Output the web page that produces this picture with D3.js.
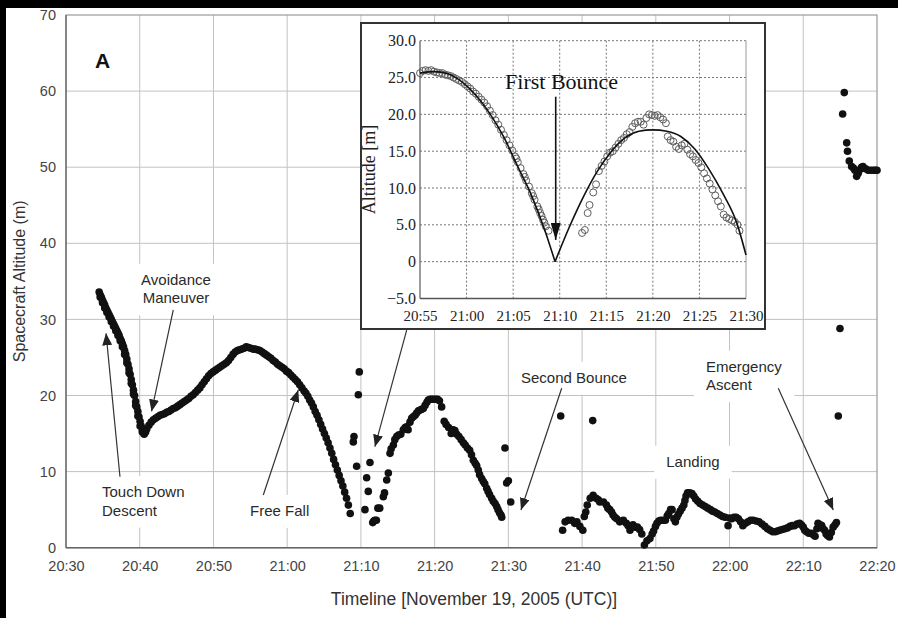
<!DOCTYPE html>
<html>
<head>
<meta charset="utf-8">
<script src="https://cdn.jsdelivr.net/npm/d3@7/dist/d3.min.js"></script>
<style>
	html, body { margin: 0; padding: 0; background: #fff; }
	svg { display: block; }
</style>
</head>
<body>
<svg id="chart" width="898" height="618"></svg>
<script>

/* Main chart dots: [minutes after 20:00 UTC, altitude in m] */
let descentDots = [
	[34.5, 33.6], [34.65, 33.2], [34.8, 32.9], [34.95, 32.5], [35.1, 32.2], [35.25, 31.9], [35.4, 31.5],
	[35.55, 31.2], [35.7, 30.9], [35.85, 30.6], [36.0, 30.3], [36.15, 30.0], [36.3, 29.7], [36.45, 29.4],
	[36.6, 29.1], [36.75, 28.8], [36.9, 28.5], [37.05, 28.2], [37.2, 27.9], [37.35, 27.5], [37.5, 27.2],
	[37.65, 26.8], [37.8, 26.4], [37.95, 25.9], [38.1, 25.4], [38.25, 24.8], [38.4, 24.1], [38.55, 23.5],
	[38.7, 22.8], [38.85, 22.1], [39.0, 21.4], [39.15, 20.7], [39.3, 20.0], [39.45, 19.2], [39.6, 18.5],
	[39.75, 17.9], [39.9, 17.2], [40.05, 16.6], [40.2, 16.0], [40.35, 15.5], [40.5, 15.2], [40.65, 15.1],
	[40.8, 15.2],
	[34.65, 32.9], [34.95, 32.2], [35.25, 31.5], [35.55, 30.9], [35.85, 30.3], [36.15, 29.7], [36.45, 29.1],
	[36.75, 28.5], [37.05, 27.9], [37.35, 27.2], [37.65, 26.4], [37.95, 25.4], [38.25, 24.3], [38.55, 23.0],
	[38.85, 21.6], [39.15, 20.2], [39.45, 18.7], [39.75, 17.3], [40.05, 16.0], [40.35, 15.2], [40.6, 14.9]
];

let hopDots = [
	[40.95, 15.6], [41.25, 16.1], [41.55, 16.5], [41.85, 16.8], [42.15, 17.0], [42.45, 17.2], [42.75, 17.4],
	[43.05, 17.5], [43.35, 17.6], [43.65, 17.8], [43.95, 17.9], [44.25, 18.1], [44.55, 18.3], [44.85, 18.4],
	[45.15, 18.6], [45.45, 18.8], [45.75, 19.0], [46.05, 19.2], [46.35, 19.4], [46.65, 19.6], [46.95, 19.9],
	[47.25, 20.1], [47.55, 20.4], [47.85, 20.7], [48.15, 21.0], [48.45, 21.4], [48.75, 21.8], [49.05, 22.2],
	[49.35, 22.6], [49.65, 22.9], [49.95, 23.1], [50.25, 23.3], [50.55, 23.5], [50.85, 23.7], [51.15, 23.9],
	[51.45, 24.1], [51.75, 24.3], [52.05, 24.6], [52.35, 25.0], [52.65, 25.4], [52.95, 25.7], [53.25, 25.9],
	[53.55, 26.0], [53.85, 26.1], [54.15, 26.2], [54.45, 26.4], [54.75, 26.3], [55.05, 26.2], [55.35, 26.1],
	[55.65, 26.1], [56.0, 26.0], [56.3, 25.9], [56.6, 25.7], [56.9, 25.5], [57.2, 25.3], [57.5, 25.1],
	[57.8, 24.9], [58.1, 24.6], [58.4, 24.4], [58.7, 24.1], [59.0, 23.9], [59.3, 23.7], [59.6, 23.5],
	[59.9, 23.2], [60.2, 23.0], [60.5, 22.7], [60.8, 22.4], [61.1, 22.1], [61.4, 21.8], [61.7, 21.4],
	[62.0, 21.0], [62.3, 20.6]
];

let freeFallDots = [
	[62.55, 20.3], [62.8, 19.9], [63.05, 19.4], [63.3, 19.0], [63.55, 18.5], [63.8, 17.9], [64.05, 17.4],
	[64.3, 16.8], [64.55, 16.2], [64.8, 15.6], [65.05, 15.0], [65.3, 14.4], [65.55, 13.8], [65.8, 13.1],
	[66.05, 12.4], [66.3, 11.6], [66.55, 10.9], [66.8, 10.2], [67.05, 9.5], [67.3, 8.8], [67.55, 8.1],
	[67.8, 7.3], [68.05, 6.5], [68.3, 5.6], [68.55, 4.5]
];

let bounceDots = [
	[68.97, 13.9], [69.06, 14.6], [69.42, 10.7], [69.65, 20.1], [69.78, 23.1], [70.55, 5.0], [70.78, 9.2],
	[71.0, 7.4], [71.23, 11.2], [71.6, 3.3], [71.75, 3.5], [71.9, 3.6], [72.1, 3.6], [72.3, 5.2], [72.55, 5.2],
	[73.04, 6.7], [73.2, 7.2], [73.5, 8.9], [73.72, 9.8]
];

let secondArcDots = [
	[73.95, 12.4], [74.1, 13.0], [74.4, 13.5], [74.6, 14.2], [74.85, 14.6], [75.1, 14.8], [75.4, 14.9],
	[75.75, 15.5], [76.0, 15.8], [76.2, 15.9], [76.4, 15.5], [76.65, 16.5], [76.88, 17.0], [77.1, 17.2],
	[77.35, 17.4], [77.56, 17.7], [77.8, 18.0], [78.05, 18.1], [78.25, 18.2], [78.46, 18.3], [78.7, 18.7],
	[78.95, 19.1], [79.14, 19.4], [79.4, 19.5], [79.65, 19.5], [79.9, 19.5], [80.15, 19.5], [80.4, 19.5],
	[80.65, 19.3], [80.95, 18.5], [81.3, 16.6], [81.55, 16.2], [81.9, 15.8], [82.25, 15.0], [82.5, 15.5],
	[82.75, 15.4], [83.0, 14.9], [83.3, 14.6], [83.6, 14.2], [83.9, 13.8], [84.15, 13.5], [84.45, 13.1],
	[84.75, 12.8], [85.0, 12.2], [85.25, 11.5], [85.5, 11.1], [85.7, 10.8], [85.92, 10.2], [86.1, 9.6],
	[86.38, 9.1], [86.6, 8.7], [86.8, 8.4], [87.06, 7.8], [87.25, 7.4], [87.45, 7.0], [87.74, 6.5],
	[87.95, 6.1], [88.2, 5.8], [88.42, 5.4], [88.6, 5.0], [88.8, 4.6], [89.0, 4.3], [89.1, 4.0]
];

let strayDots = [
	[89.54, 13.1], [89.77, 8.5], [90.0, 8.8], [90.32, 6.0], [97.1, 17.3], [101.44, 16.7]
];

let landingDots = [
	[97.36, 2.3], [97.7, 3.4], [98.1, 3.6], [98.6, 3.6], [99.0, 3.2], [99.3, 3.4], [99.7, 2.8], [100.1, 2.3],
	[100.3, 4.1], [100.5, 4.7], [100.7, 5.6], [101.1, 6.5], [101.5, 6.9], [101.9, 6.5], [102.2, 6.3],
	[102.4, 6.0], [102.9, 6.0], [103.3, 5.6], [103.5, 5.2], [103.75, 5.0], [104.0, 4.7], [104.2, 4.3],
	[104.45, 4.0], [104.7, 3.8], [105.1, 3.4], [105.35, 3.5], [105.6, 3.6], [106.0, 3.2], [106.25, 2.9],
	[106.5, 2.3], [106.9, 3.0], [107.2, 2.7], [107.5, 2.7], [107.8, 2.4], [108.1, 1.8], [108.45, 0.35],
	[108.8, 0.9], [109.2, 1.2], [109.5, 1.8], [109.7, 2.2], [109.95, 2.8], [110.15, 3.2], [110.4, 3.5],
	[110.65, 3.6], [111.0, 3.6], [111.3, 3.6], [111.55, 4.2], [111.75, 4.5], [112.0, 5.0], [112.2, 5.0],
	[112.45, 3.8], [112.65, 3.4], [112.85, 4.0], [113.05, 4.4], [113.3, 4.8], [113.55, 5.2], [113.8, 5.6],
	[113.95, 6.2], [114.1, 6.8], [114.3, 7.2], [114.6, 7.2], [114.9, 7.1], [115.15, 6.8], [115.4, 6.4],
	[115.7, 6.1], [116.0, 5.8], [116.35, 5.6], [116.7, 5.4], [117.05, 5.2], [117.4, 5.0], [117.7, 4.8],
	[118.0, 4.7], [118.35, 4.5], [118.7, 4.3], [119.05, 4.1], [119.4, 4.0], [119.8, 2.9], [120.0, 3.9],
	[120.3, 3.8], [120.6, 4.0], [120.9, 4.0], [121.2, 3.8], [121.5, 3.4], [121.8, 2.9], [122.15, 3.2],
	[122.5, 3.4], [122.85, 3.6], [123.2, 3.6], [123.6, 3.5], [124.0, 3.4], [124.4, 3.1], [124.8, 2.8],
	[125.15, 2.5], [125.5, 2.3], [125.85, 2.1], [126.2, 2.1], [126.5, 2.2], [126.8, 2.3], [127.15, 2.4],
	[127.5, 2.5], [127.85, 2.6], [128.2, 2.8], [128.5, 2.9], [128.8, 2.9], [129.15, 3.1], [129.5, 3.2],
	[129.75, 3.0], [130.0, 2.7], [130.2, 2.3], [130.45, 2.1], [130.75, 1.9], [131.1, 1.9], [131.35, 1.7],
	[131.6, 1.5], [131.85, 2.5], [132.0, 3.2], [132.3, 3.0], [132.5, 2.9], [132.7, 2.5], [132.9, 2.3],
	[133.1, 1.8], [133.3, 1.6], [133.55, 1.4], [133.8, 2.0], [134.05, 2.7], [134.3, 3.0], [134.5, 3.3]
];

let ascentDots = [
	[134.75, 17.3], [134.98, 28.8], [135.34, 57.0], [135.56, 59.8], [135.89, 53.2], [136.0, 52.1],
	[136.24, 50.8], [136.56, 50.1], [136.8, 49.9], [137.0, 49.6], [137.24, 48.8], [137.45, 49.2],
	[137.7, 49.7], [137.9, 50.0], [138.1, 50.1], [138.45, 49.8], [138.8, 49.6], [139.15, 49.6],
	[139.5, 49.6], [139.8, 49.6], [140.0, 49.6]
];

/* Inset: measured points and ballistic fit, [minutes after 20:00 UTC, altitude in m] */
let insetDots = [
	[55.0, 25.6], [55.3, 25.9], [55.6, 26.0], [55.9, 25.9], [56.2, 26.0], [56.5, 25.8], [56.8, 25.7],
	[57.1, 25.6], [57.4, 25.6], [57.7, 25.4], [58.0, 25.3], [58.3, 25.2], [58.6, 25.0], [58.9, 24.8],
	[59.2, 24.6], [59.5, 24.4], [59.8, 24.1], [60.1, 23.8], [60.4, 23.5], [60.7, 23.1], [61.0, 22.8],
	[61.3, 22.4], [61.6, 22.0], [61.9, 21.6], [62.2, 21.1], [62.5, 20.5], [62.8, 19.9], [63.1, 19.2],
	[63.4, 18.6], [63.7, 17.9], [64.0, 17.2], [64.3, 16.5], [64.6, 15.8], [64.9, 15.1], [65.2, 14.3],
	[65.35, 14.0], [65.5, 13.5], [65.8, 12.7], [66.1, 11.9], [66.25, 11.5], [66.4, 11.0], [66.7, 10.2],
	[67.0, 9.3], [67.15, 8.9], [67.3, 8.4], [67.6, 7.5], [67.75, 7.1], [67.9, 6.6], [68.05, 6.2],
	[68.2, 5.7], [68.35, 5.3], [68.5, 4.8], [68.8, 4.2],
	[72.4, 3.9], [72.7, 4.3], [73.0, 6.6], [73.2, 7.7], [73.6, 9.4], [73.9, 10.5], [74.2, 12.3],
	[74.5, 13.0], [74.8, 13.6], [75.1, 14.3], [75.4, 14.8], [75.7, 15.0], [76.0, 15.5], [76.3, 16.0],
	[76.6, 16.5], [76.9, 16.8], [77.2, 17.3], [77.5, 17.6], [77.8, 18.3], [78.1, 18.8], [78.4, 19.0],
	[78.7, 19.0], [79.0, 18.6], [79.3, 19.5], [79.6, 20.0], [79.9, 19.9], [80.2, 19.8], [80.5, 19.9],
	[80.8, 19.6], [81.1, 19.3], [81.4, 18.8], [81.6, 17.0], [81.9, 16.5], [82.2, 16.3], [82.5, 15.6],
	[82.8, 15.3], [83.1, 15.8], [83.4, 16.0], [83.7, 15.2], [84.0, 14.6], [84.3, 14.3], [84.6, 13.8],
	[84.9, 13.4], [85.2, 12.8], [85.5, 12.0], [85.8, 11.3], [86.1, 10.6], [86.4, 9.8], [86.7, 9.0],
	[87.0, 8.2], [87.3, 7.5], [87.6, 6.4], [87.9, 6.0], [88.2, 5.8], [88.5, 5.6], [88.8, 5.4],
	[89.1, 5.0], [89.3, 4.2]
];
let fitFirstArc = [
	[55, 25.6], [56.5, 25.8], [58, 25.5], [59.5, 24.4], [61, 22.6], [62.5, 20.1], [64, 16.9],
	[65.5, 12.9], [67, 8.9], [68.5, 3.9], [69.5, 0]
];
let fitSecondArc = [
	[69.5, 0], [71, 4.6], [72.5, 8.7], [74, 12.2], [75.5, 14.9], [77, 16.8], [78.5, 17.7], [80, 17.9],
	[81.5, 17.7], [83, 17.0], [84.5, 15.3], [86, 12.6], [87.5, 9.3], [89, 5.3], [90, 0.9]
];

/* Ticks */
let mainTimeTicks = [30, 40, 50, 60, 70, 80, 90, 100, 110, 120, 130, 140];
let mainAltTicks = [0, 10, 20, 30, 40, 50, 60, 70];
let insetTimeTicks = [55, 60, 65, 70, 75, 80, 85, 90];
let insetAltTicks = [-5, 0, 5, 10, 15, 20, 25, 30];

/* Annotations, anchored in data units */
let notes = [
	{ lines: ["Touch Down", "Descent"], at: [34.88, 6.66], anchor: "start" },
	{ lines: ["Avoidance", "Maneuver"], at: [44.92, 34.55], anchor: "middle" },
	{ lines: ["Free Fall"], at: [58.98, 4.17], anchor: "middle" },
	{ lines: ["Second Bounce"], at: [98.9, 21.68], anchor: "middle" },
	{ lines: ["Landing"], at: [115.04, 10.64], anchor: "middle" },
	{ lines: ["Emergency", "Ascent"], at: [116.8, 23.13], anchor: "start" }
];
let pointers = [
	{ from: [37.32, 9.33], to: [35.43, 28.17] },
	{ from: [44.55, 31.24], to: [41.6, 17.9] },
	{ from: [56.76, 6.93], to: [61.5, 20.72] },
	{ from: [76.21, 28.6], to: [71.9, 13.27] },
	{ from: [97.23, 20.95], to: [91.71, 4.95] },
	{ from: [126.61, 20.95], to: [134.07, 4.95] }
];

let sans = "'Liberation Sans', Arial, sans-serif";
let serif = "'Liberation Serif', 'Times New Roman', serif";

function clock(m) {
	let h = 20 + Math.floor(m / 60);
	let mm = m % 60;
	return h + ":" + (mm < 10 ? "0" : "") + mm;
}

let svg = d3.select("#chart");
svg.append("rect").attr("width", 898).attr("height", 618).attr("fill", "#fff");

// Scales
let x = d3.scaleLinear().domain([30, 140]).range([66, 877]);
let y = d3.scaleLinear().domain([0, 70]).range([547.7, 15]);

// Arrow heads
let defs = svg.append("defs");
defs.append("marker")
	.attr("id", "head")
	.attr("viewBox", "0 0 12 10")
	.attr("refX", 12).attr("refY", 5)
	.attr("markerWidth", 12).attr("markerHeight", 10)
	.attr("markerUnits", "userSpaceOnUse")
	.attr("orient", "auto")
	.append("path").attr("d", "M0,0L12,5L0,10Z").attr("fill", "#222");
defs.append("marker")
	.attr("id", "bighead")
	.attr("viewBox", "0 0 17 10")
	.attr("refX", 17).attr("refY", 5)
	.attr("markerWidth", 17).attr("markerHeight", 10)
	.attr("markerUnits", "userSpaceOnUse")
	.attr("orient", "auto")
	.append("path").attr("d", "M0,0L17,5L0,10Z").attr("fill", "#111");

// Grid
let grid = svg.append("g");
grid.selectAll(".vgrid")
	.data(mainTimeTicks.slice(1, -1))
	.enter().append("line")
	.attr("x1", function(d) { return x(d); })
	.attr("x2", function(d) { return x(d); })
	.attr("y1", y(70)).attr("y2", y(0))
	.attr("stroke", "#c2c2c2").attr("stroke-width", 1);
grid.selectAll(".hgrid")
	.data(mainAltTicks.slice(1, -1))
	.enter().append("line")
	.attr("x1", x(30)).attr("x2", x(140))
	.attr("y1", function(d) { return y(d); })
	.attr("y2", function(d) { return y(d); })
	.attr("stroke", "#c2c2c2").attr("stroke-width", 1);

svg.append("rect")
	.attr("x", x(30)).attr("y", y(70))
	.attr("width", x(140) - x(30)).attr("height", y(0) - y(70))
	.attr("fill", "none").attr("stroke", "#9a9a9a").attr("stroke-width", 1.2);
svg.append("line")
	.attr("x1", x(30)).attr("x2", x(30)).attr("y1", y(70)).attr("y2", y(0))
	.attr("stroke", "#707070").attr("stroke-width", 1.5);
svg.append("line")
	.attr("x1", x(30)).attr("x2", x(140)).attr("y1", y(0)).attr("y2", y(0))
	.attr("stroke", "#666").attr("stroke-width", 1.6);

// Axes (labels only)
let xAxis = svg.append("g")
	.attr("transform", "translate(0," + y(0) + ")")
	.call(d3.axisBottom(x).tickValues(mainTimeTicks).tickSize(0).tickPadding(13).tickFormat(clock));
let yAxis = svg.append("g")
	.attr("transform", "translate(" + x(30) + ",0)")
	.call(d3.axisLeft(y).tickValues(mainAltTicks).tickSize(0).tickPadding(10).tickFormat(d3.format("d")));
[xAxis, yAxis].forEach(function(g) {
	g.select(".domain").remove();
	g.selectAll("text")
		.attr("font-family", sans)
		.attr("font-size", 14.5)
		.attr("fill", "#444");
});

svg.append("text")
	.attr("x", 474).attr("y", 605)
	.attr("text-anchor", "middle")
	.attr("font-family", sans).attr("font-size", 17.5).attr("fill", "#333")
	.text("Timeline [November 19, 2005 (UTC)]");
svg.append("text")
	.attr("transform", "translate(25," + (y(35)) + ") rotate(-90)")
	.attr("text-anchor", "middle")
	.attr("font-family", sans).attr("font-size", 16).attr("fill", "#333")
	.text("Spacecraft Altitude (m)");

svg.append("text")
	.attr("x", 95).attr("y", 68)
	.attr("font-family", sans).attr("font-size", 21).attr("font-weight", "bold").attr("fill", "#111")
	.text("A");

// Annotation labels on white boxes
let noteGroups = svg.append("g").selectAll(".note")
	.data(notes)
	.enter().append("g").attr("class", "note");
noteGroups.each(function(d) {
	let g = d3.select(this);
	let t = g.append("text")
		.attr("x", x(d.at[0])).attr("y", y(d.at[1]))
		.attr("text-anchor", d.anchor)
		.attr("font-family", sans).attr("font-size", 15).attr("fill", "#2a2a2a");
	t.selectAll("tspan")
		.data(d.lines)
		.enter().append("tspan")
		.attr("x", x(d.at[0]))
		.attr("dy", function(l, i) { return i ? 18.5 : 0; })
		.text(function(l) { return l; });
	let b = t.node().getBBox();
	g.insert("rect", "text")
		.attr("x", b.x - 12).attr("y", b.y - 7)
		.attr("width", b.width + 24).attr("height", b.height + 16)
		.attr("fill", "#fff");
});

// Dots
let mainDots = [].concat(descentDots, hopDots, freeFallDots, bounceDots, secondArcDots, strayDots, landingDots, ascentDots);
svg.append("g").selectAll("circle")
	.data(mainDots)
	.enter().append("circle")
	.attr("cx", function(d) { return x(d[0]); })
	.attr("cy", function(d) { return y(d[1]); })
	.attr("r", 3.8)
	.attr("fill", "#111");

// Pointer arrows
svg.append("g").selectAll("line")
	.data(pointers)
	.enter().append("line")
	.attr("x1", function(d) { return x(d.from[0]); })
	.attr("y1", function(d) { return y(d.from[1]); })
	.attr("x2", function(d) { return x(d.to[0]); })
	.attr("y2", function(d) { return y(d.to[1]); })
	.attr("stroke", "#333").attr("stroke-width", 1.2)
	.attr("marker-end", "url(#head)");

/* Inset */
let inset = svg.append("g");
inset.append("rect")
	.attr("x", 361).attr("y", 23).attr("width", 404).attr("height", 306)
	.attr("fill", "#fff").attr("stroke", "#333").attr("stroke-width", 2);

let ix = d3.scaleLinear().domain([55, 90]).range([420, 746]);
let iy = d3.scaleLinear().domain([-5, 30]).range([298.5, 40.7]);

inset.selectAll(".ivgrid")
	.data(insetTimeTicks.slice(1, -1))
	.enter().append("line")
	.attr("x1", function(d) { return ix(d); })
	.attr("x2", function(d) { return ix(d); })
	.attr("y1", iy(30)).attr("y2", iy(-5))
	.attr("stroke", "#777").attr("stroke-width", 1).attr("stroke-dasharray", "2,2");
inset.selectAll(".ihgrid")
	.data(insetAltTicks.slice(1))
	.enter().append("line")
	.attr("x1", ix(55)).attr("x2", ix(90))
	.attr("y1", function(d) { return iy(d); })
	.attr("y2", function(d) { return iy(d); })
	.attr("stroke", "#777").attr("stroke-width", 1).attr("stroke-dasharray", "2,2");
inset.append("line")
	.attr("x1", ix(90)).attr("x2", ix(90)).attr("y1", iy(30)).attr("y2", iy(-5))
	.attr("stroke", "#999").attr("stroke-width", 1);
inset.append("line")
	.attr("x1", ix(55)).attr("x2", ix(55)).attr("y1", iy(30)).attr("y2", iy(-5))
	.attr("stroke", "#666").attr("stroke-width", 1.3);
inset.append("line")
	.attr("x1", ix(55)).attr("x2", ix(90)).attr("y1", iy(-5)).attr("y2", iy(-5))
	.attr("stroke", "#555").attr("stroke-width", 1.3);

let ixAxis = inset.append("g")
	.attr("transform", "translate(0," + iy(-5) + ")")
	.call(d3.axisBottom(ix).tickValues(insetTimeTicks).tickSize(0).tickPadding(12).tickFormat(clock));
let iyAxis = inset.append("g")
	.attr("transform", "translate(" + ix(55) + ",0)")
	.call(d3.axisLeft(iy).tickValues(insetAltTicks).tickSize(0).tickPadding(4)
		.tickFormat(function(d) { return d === 0 ? "0" : d3.format(".1f")(d); }));
[ixAxis, iyAxis].forEach(function(g) {
	g.select(".domain").remove();
	g.selectAll("text")
		.attr("font-family", serif)
		.attr("font-size", 16)
		.attr("fill", "#222");
});
ixAxis.selectAll("text").attr("font-size", 15);

inset.append("text")
	.attr("transform", "translate(375," + iy(12.5) + ") rotate(-90)")
	.attr("text-anchor", "middle")
	.attr("font-family", serif).attr("font-size", 18).attr("fill", "#222")
	.text("Altitude [m]");

inset.append("g").selectAll("circle")
	.data(insetDots)
	.enter().append("circle")
	.attr("cx", function(d) { return ix(d[0]); })
	.attr("cy", function(d) { return iy(d[1]); })
	.attr("r", 3.5)
	.attr("fill", "none")
	.attr("stroke", "#5e5e5e").attr("stroke-width", 1);

let fitLine = d3.line()
	.x(function(d) { return ix(d[0]); })
	.y(function(d) { return iy(d[1]); })
	.curve(d3.curveMonotoneX);
[fitFirstArc, fitSecondArc].forEach(function(arc) {
	inset.append("path")
		.attr("d", fitLine(arc))
		.attr("fill", "none")
		.attr("stroke", "#111").attr("stroke-width", 1.6);
});

inset.append("text")
	.attr("x", ix(64.13)).attr("y", iy(23.44))
	.attr("font-family", serif).attr("font-size", 22).attr("fill", "#111")
	.text("First Bounce");
inset.append("line")
	.attr("x1", ix(69.57)).attr("x2", ix(69.57))
	.attr("y1", iy(22.4)).attr("y2", iy(2.95))
	.attr("stroke", "#111").attr("stroke-width", 1.6)
	.attr("marker-end", "url(#bighead)");

// Photo frame edges
svg.append("rect").attr("x", 0).attr("y", 0).attr("width", 898).attr("height", 8).attr("fill", "#000");
svg.append("rect").attr("x", 0).attr("y", 0).attr("width", 6).attr("height", 618).attr("fill", "#000");

</script>
</body>
</html>
